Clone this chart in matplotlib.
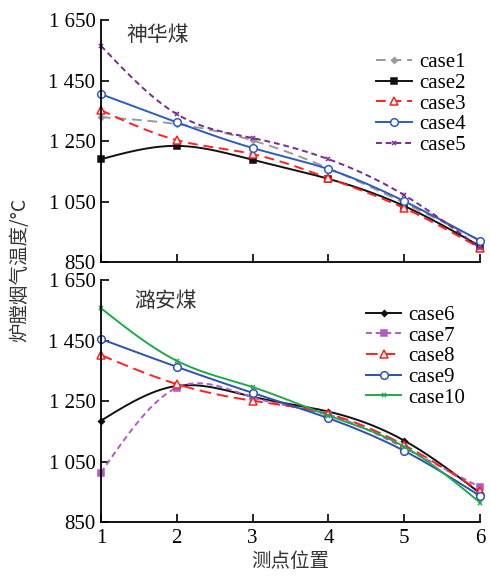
import numpy as np
import matplotlib
matplotlib.use('Agg')
import matplotlib.pyplot as plt

plt.rcParams['font.family'] = ['Liberation Serif', 'Noto Sans CJK SC']
plt.rcParams['axes.unicode_minus'] = False

x = [1, 2, 3, 4, 5, 6]
ticks_y = [850, 1050, 1250, 1450, 1650]
ticklabels_y = ['850', '1 050', '1 250', '1 450', '1 650']

# 神华煤
case1 = [1329, 1306, 1252, 1160, 1045, 921]
case2 = [1190, 1234, 1188, 1125, 1035, 902]
case3 = [1352, 1253, 1207, 1127, 1028, 896]
case4 = [1405, 1312, 1227, 1157, 1051, 920]
case5 = [1565, 1339, 1260, 1190, 1071, 896]

# 潞安煤
case6 = [1185, 1300, 1264, 1215, 1119, 945]
case7 = [1013, 1294, 1262, 1205, 1095, 965]
case8 = [1402, 1306, 1251, 1207, 1104, 952]
case9 = [1455, 1363, 1277, 1193, 1085, 936]
case10 = [1557, 1383, 1296, 1202, 1099, 914]


def smooth(xs, ys, n=200):
    # natural cubic spline through the points
    xs = np.asarray(xs, float)
    ys = np.asarray(ys, float)
    m = len(xs)
    h = np.diff(xs)
    A = np.zeros((m, m))
    b = np.zeros(m)
    A[0, 0] = 1
    A[-1, -1] = 1
    for i in range(1, m - 1):
        A[i, i - 1] = h[i - 1]
        A[i, i] = 2 * (h[i - 1] + h[i])
        A[i, i + 1] = h[i]
        b[i] = 6 * ((ys[i + 1] - ys[i]) / h[i] - (ys[i] - ys[i - 1]) / h[i - 1])
    M = np.linalg.solve(A, b)
    xx = np.linspace(xs[0], xs[-1], n)
    yy = np.empty_like(xx)
    for k, t in enumerate(xx):
        i = min(np.searchsorted(xs, t, side='right') - 1, m - 2)
        a = xs[i + 1] - t
        c = t - xs[i]
        yy[k] = (M[i] * a ** 3 + M[i + 1] * c ** 3) / (6 * h[i]) \
            + (ys[i] / h[i] - M[i] * h[i] / 6) * a \
            + (ys[i + 1] / h[i] - M[i + 1] * h[i] / 6) * c
    return xx, yy


def draw(ax, ys, label, color, ls, marker, ms, mfc, dashes=None):
    xx, yy = smooth(x, ys)
    kw = {}
    if dashes is not None:
        kw['dashes'] = dashes
    ax.plot(xx, yy, color=color, ls=ls, lw=1.4, clip_on=False, **kw)
    ax.plot(x, ys, ls='none', marker=marker, ms=ms, mfc=mfc, mec=color,
            mew=1.1, color=color, clip_on=False)
    ax.plot([], [], color=color, ls=ls, lw=1.4, marker=marker, ms=ms,
            mfc=mfc, mec=color, mew=1.1, label=label, **kw)


fig = plt.figure(figsize=(4.9, 5.81), dpi=100)
ax1 = fig.add_axes([0.206, 0.549, 0.774, 0.4165])
ax2 = fig.add_axes([0.206, 0.1015, 0.774, 0.4165])

draw(ax1, case1, 'case1', '#9a9a9a', '--', 'D', 3, '#9a9a9a', (5, 3))
draw(ax1, case2, 'case2', '#111111', '-', 's', 4.5, '#111111')
draw(ax1, case3, 'case3', '#ff2020', '--', '^', 5.5, 'white', (5, 3))
draw(ax1, case4, 'case4', '#2c5cc0', '-', 'o', 5.5, 'white')
draw(ax1, case5, 'case5', '#7a2a90', '--', 'x', 3.5, '#8b1a1a', (3, 2))

draw(ax2, case6, 'case6', '#111111', '-', 'D', 3, '#111111')
draw(ax2, case7, 'case7', '#b05cc0', '--', 's', 4.5, '#b05cc0', (3, 2))
draw(ax2, case8, 'case8', '#ff2020', '--', '^', 5.5, 'white', (6, 3))
draw(ax2, case9, 'case9', '#3050b0', '-', 'o', 5.5, 'white')
draw(ax2, case10, 'case10', '#1faa4a', '-', 'x', 3.5, '#1faa4a')

for ax, top in ((ax1, 0.925), (ax2, 0.955)):
    ax.set_xlim(1, 6)
    ax.set_ylim(850, 1650)
    ax.set_xticks(x)
    ax.set_yticks(ticks_y)
    ax.set_yticklabels(ticklabels_y)
    ax.spines['top'].set_visible(False)
    ax.spines['right'].set_visible(False)
    ax.spines['left'].set_linewidth(1.3)
    ax.spines['bottom'].set_linewidth(1.3)
    ax.tick_params(direction='in', length=6, width=1.2, labelsize=15, pad=4)
    ax.legend(loc='upper right', bbox_to_anchor=(1.0, top), frameon=False,
              fontsize=15, handlelength=1.7, handletextpad=0.35,
              labelspacing=0.05, borderpad=0.2)

ax1.tick_params(axis='x', labelbottom=False)
ax2.tick_params(axis='x', pad=5)

ax1.text(0.068, 0.985, '神华煤', transform=ax1.transAxes, fontsize=15,
         va='top', family=['Noto Sans CJK SC'], color='#333333')
ax2.text(0.089, 0.96, '潞安煤', transform=ax2.transAxes, fontsize=15,
         va='top', family=['Noto Sans CJK SC'], color='#333333')

fig.text(0.04, 0.535, '炉膛烟气温度/°C', rotation=90, ha='center', va='center',
         fontsize=14, family=['Noto Sans CJK SC', 'DejaVu Sans'], color='#333333')
ax2.set_xlabel('测点位置', fontsize=14, family=['Noto Sans CJK SC'],
               color='#333333', labelpad=2)

fig.savefig('out.png', dpi=100)
